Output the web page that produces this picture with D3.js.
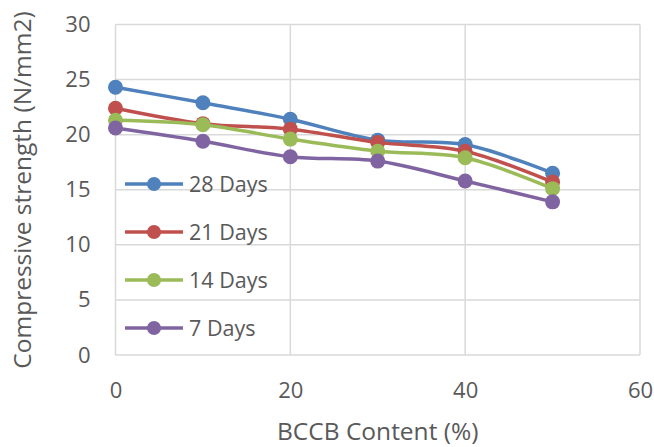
<!DOCTYPE html>
<html><head><meta charset="utf-8">
<script src="https://cdn.jsdelivr.net/npm/d3@7"></script>
<style>html,body{margin:0;padding:0;background:#fff;}svg{display:block;}</style>
</head><body>
<script>
const content = [0, 10, 20, 30, 40, 50];
const days28 = [24.3, 22.9, 21.4, 19.5, 19.1, 16.5];
const days21 = [22.4, 21.0, 20.5, 19.3, 18.5, 15.7];
const days14 = [21.3, 20.9, 19.6, 18.5, 17.9, 15.1];
const days7  = [20.6, 19.4, 18.0, 17.6, 15.8, 13.9];
const seriesNames = ["28 Days", "21 Days", "14 Days", "7 Days"];
const xTicks = [0, 20, 40, 60];
const yTicks = [0, 5, 10, 15, 20, 25, 30];
const colors = ["#4F81BD", "#C0504D", "#9BBB59", "#8064A2"];

const W = 654, H = 447;
const m = {left: 115.5, right: 14, top: 24.5, bottom: 92};
const svg = d3.select("body").append("svg").attr("width", W).attr("height", H);
const x = d3.scaleLinear().domain([0, 60]).range([m.left, W - m.right]);
const y = d3.scaleLinear().domain([0, 30]).range([H - m.bottom, m.top]);
const font = "'Open Sans', sans-serif";
const txt = "#595959";

// grid
const g = svg.append("g");
g.selectAll(".gy").data(yTicks).join("line")
  .attr("x1", x(0)).attr("x2", x(60)).attr("y1", d => y(d)).attr("y2", d => y(d))
  .attr("stroke", "#d9d9d9").attr("stroke-width", 1.5);
g.selectAll(".gx").data(xTicks).join("line")
  .attr("y1", y(0)).attr("y2", y(30)).attr("x1", d => x(d)).attr("x2", d => x(d))
  .attr("stroke", "#d9d9d9").attr("stroke-width", 1.5);

// axes (labels only)
const ya = svg.append("g").attr("transform", `translate(${x(0) - 25},0)`)
  .call(d3.axisLeft(y).tickValues(yTicks).tickSize(0).tickPadding(0));
ya.select(".domain").remove();
ya.selectAll("text").attr("font-family", font).attr("font-size", 22).attr("fill", txt);
const xa = svg.append("g").attr("transform", `translate(0,${y(0) + 27})`)
  .call(d3.axisBottom(x).tickValues(xTicks).tickSize(0).tickPadding(0));
xa.select(".domain").remove();
xa.selectAll("text").attr("font-family", font).attr("font-size", 22).attr("fill", txt);

// titles
svg.append("text").attr("x", (x(0) + x(60)) / 2 - 0).attr("y", 440)
  .attr("text-anchor", "middle").attr("font-family", font).attr("font-size", 24.5)
  .attr("fill", txt).text("BCCB Content (%)");
svg.append("text").attr("transform", `translate(31,190) rotate(-90)`)
  .attr("text-anchor", "middle").attr("font-family", font).attr("font-size", 24.5)
  .attr("fill", txt).text("Compressive strength (N/mm2)");

// series
const allSeries = [days28, days21, days14, days7];
const line = d3.line().x((d, i) => x(content[i])).y(d => y(d)).curve(d3.curveCatmullRom.alpha(0.5));
allSeries.forEach((s, k) => {
  svg.append("path").datum(s).attr("d", line).attr("fill", "none")
    .attr("stroke", colors[k]).attr("stroke-width", 3.5);
  svg.selectAll(".pt" + k).data(s).join("circle")
    .attr("cx", (d, i) => x(content[i])).attr("cy", d => y(d)).attr("r", 7.5)
    .attr("fill", colors[k]);
});

// legend
const legY = [184, 232, 280, 328];
seriesNames.forEach((n, k) => {
  const lg = svg.append("g");
  lg.append("line").attr("x1", 125).attr("x2", 183).attr("y1", legY[k]).attr("y2", legY[k])
    .attr("stroke", colors[k]).attr("stroke-width", 3.5);
  lg.append("circle").attr("cx", 154).attr("cy", legY[k]).attr("r", 7).attr("fill", colors[k]);
  lg.append("text").attr("x", 189).attr("y", legY[k]).attr("dy", "0.36em")
    .attr("font-family", font).attr("font-size", 21.5).attr("fill", txt).text(n);
});
</script>
</body></html>
